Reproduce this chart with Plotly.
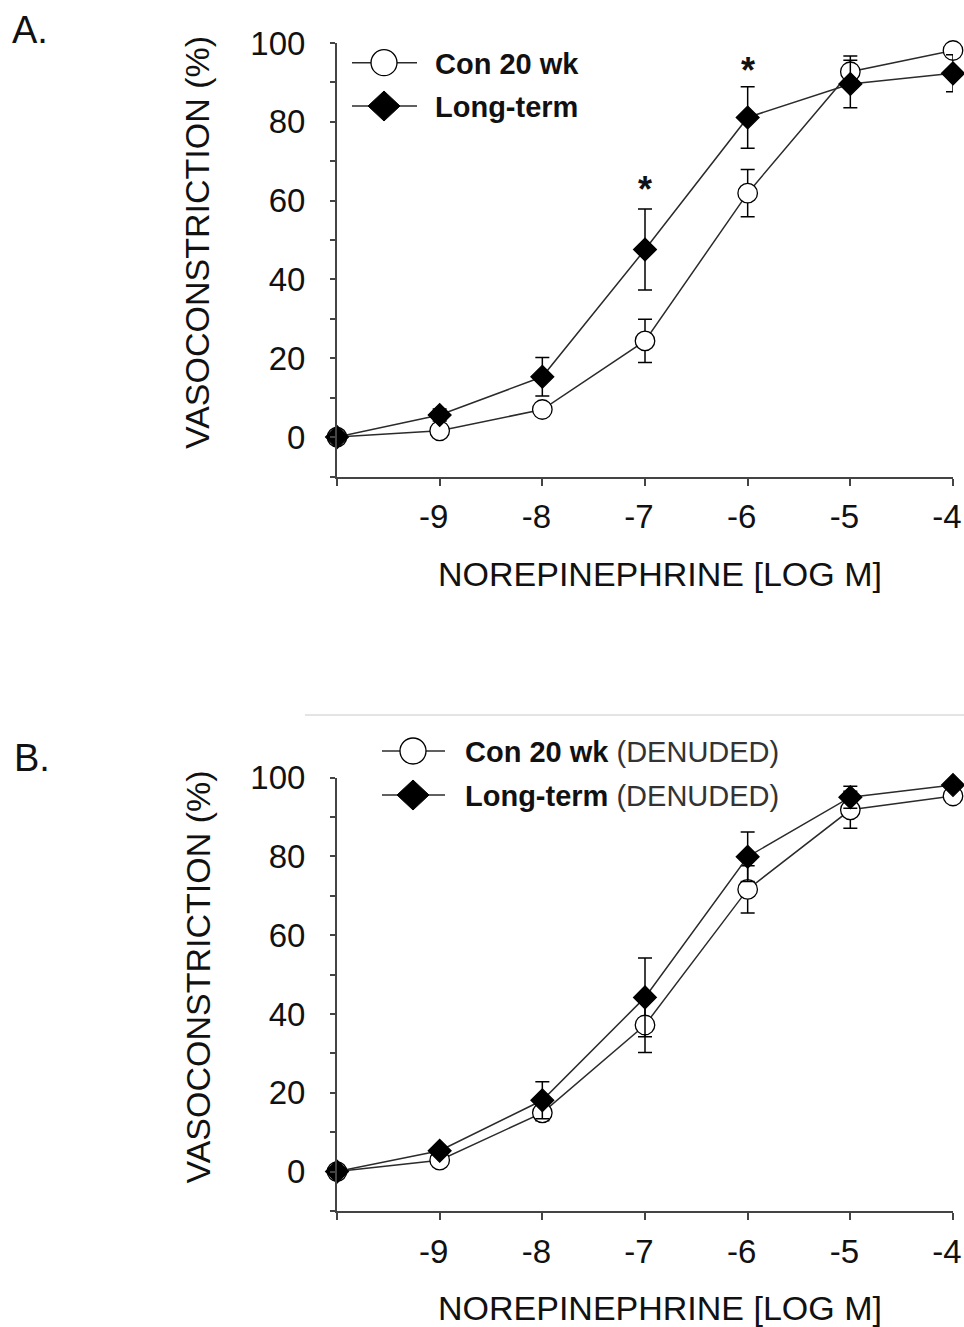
import plotly.graph_objects as go

# ---------------- data ----------------
x_log = [-10, -9, -8, -7, -6, -5, -4]
x_tick_vals = [-10, -9, -8, -7, -6, -5, -4]
x_tick_text = ["", "-9", "-8", "-7", "-6", "-5", "-4"]
y_tick_vals = [-10, 0, 10, 20, 30, 40, 50, 60, 70, 80, 90, 100]
y_tick_text = ["", "0", "", "20", "", "40", "", "60", "", "80", "", "100"]

a_con = [0, 1.6, 7.0, 24.4, 61.9, 92.7, 98.1]
a_con_err = [0, 1.0, 1.5, 5.5, 6.0, 4.0, 1.5]
a_lt = [0, 5.6, 15.3, 47.6, 81.1, 89.6, 92.3]
a_lt_err = [0, 1.5, 4.9, 10.3, 7.8, 6.0, 4.7]

b_con = [0, 2.9, 14.9, 37.2, 71.6, 91.8, 95.3]
b_con_err = [0, 1.0, 2.0, 7.0, 6.0, 4.7, 1.5]
b_lt = [0, 5.3, 18.1, 44.2, 79.9, 95.0, 98.1]
b_lt_err = [0, 1.0, 4.7, 10.0, 6.3, 2.8, 1.0]

sig_x = [-7, -6]
sig_y = [64.0, 94.4]

series_names = ["Con 20 wk", "Long-term"]
x_title = "NOREPINEPHRINE [LOG M]"
y_title = "VASOCONSTRICTION (%)"

# ---------------- layout helpers ----------------
W, H = 964, 1327
OFF = 0  # body margin removed by post_script
FONT = "Liberation Sans, Arial, Helvetica, sans-serif"


def px(x):
    return (x - OFF) / W


def py(y):
    return 1 - (y - OFF) / H


AX_L, AX_R = 337, 953
PANELS = [(43, 476.5), (777.5, 1211)]

fig = go.Figure()


def add_series(xa, ya, yvals, errs, symbol, name):
    filled = symbol == "diamond"
    fig.add_trace(go.Scatter(
        x=x_log, y=yvals, name=name, xaxis=xa, yaxis=ya,
        mode="lines+markers", cliponaxis=False, showlegend=False,
        line=dict(color="#2b2b2b", width=1.5),
        marker=dict(symbol=symbol, size=17.5 if filled else 19.5,
                    color="black" if filled else "white",
                    line=dict(color="black", width=1.3)),
        error_y=dict(type="data", array=errs, visible=True,
                     color="black", thickness=1.5, width=7),
    ))


add_series("x", "y", a_con, a_con_err, "circle", series_names[0])
add_series("x", "y", a_lt, a_lt_err, "diamond", series_names[1])
add_series("x2", "y2", b_con, b_con_err, "circle", series_names[0])
add_series("x2", "y2", b_lt, b_lt_err, "diamond", series_names[1])

axis_common = dict(showline=True, linecolor="#444", linewidth=2,
                   ticks="outside", tickcolor="#444", tickwidth=1.5,
                   showgrid=False, zeroline=False, automargin=False,
                   tickfont=dict(family=FONT, size=33, color="#111"))

lay = dict(
    width=W, height=H,
    margin=dict(l=0, r=0, t=0, b=0, pad=0, autoexpand=False),
    paper_bgcolor="white", plot_bgcolor="white", showlegend=False,
)
for i, (top, bot) in enumerate(PANELS):
    sfx = "" if i == 0 else str(i + 1)
    lay["xaxis" + sfx] = dict(
        domain=[px(AX_L), px(AX_R)], anchor="y" + sfx,
        range=[-10, -4], tickmode="array", tickvals=x_tick_vals,
        ticktext=x_tick_text, ticklen=7, ticklabelstandoff=3,
        ticklabelshift=-6, **axis_common)
    lay["yaxis" + sfx] = dict(
        domain=[py(bot), py(top)], anchor="x" + sfx,
        range=[-10, 100], tickmode="array", tickvals=y_tick_vals,
        ticktext=y_tick_text, ticklen=5, ticklabelstandoff=18, **axis_common)
fig.update_layout(**lay)

ann = []
shapes = []
for i, (top, bot) in enumerate(PANELS):
    # axis titles
    ann.append(dict(text=x_title, xref="paper", yref="paper",
                    x=px(660), y=py(bot + 97), showarrow=False,
                    xanchor="center", yanchor="middle",
                    font=dict(family=FONT, size=34, color="#111")))
    ann.append(dict(text=y_title, xref="paper", yref="paper",
                    x=px(197), y=py(top + 200), showarrow=False, textangle=-90,
                    xanchor="center", yanchor="middle",
                    font=dict(family=FONT, size=34, color="#111")))

# panel letters
ann.append(dict(text="A.", xref="paper", yref="paper", x=px(10), y=py(30),
                showarrow=False, xanchor="left", yanchor="middle",
                font=dict(family=FONT, size=38, color="#111")))
ann.append(dict(text="B.", xref="paper", yref="paper", x=px(12), y=py(758),
                showarrow=False, xanchor="left", yanchor="middle",
                font=dict(family=FONT, size=38, color="#111")))

# significance markers
for sx, sy in zip(sig_x, sig_y):
    ann.append(dict(text="<b>*</b>", xref="x", yref="y", x=sx, y=sy,
                    showarrow=False, xanchor="center", yanchor="middle",
                    yshift=-5, font=dict(family=FONT, size=36, color="#111")))

# legends (drawn manually)
legend_specs = [
    # (line x0, x1, symbol cx, row1 y, row2 y, text x, suffix)
    (352, 417, 384, 62.7, 106, 433, ""),
    (382, 445, 413, 751, 795, 463, " (DENUDED)"),
]
for (lx0, lx1, cx, r1, r2, tx, suffix) in legend_specs:
    for ry in (r1, r2):
        shapes.append(dict(type="line", xref="paper", yref="paper",
                           x0=px(lx0), x1=px(lx1), y0=py(ry), y1=py(ry),
                           line=dict(color="#2b2b2b", width=1.5)))
    shapes.append(dict(type="circle", xref="paper", yref="paper",
                       x0=px(cx - 13), x1=px(cx + 13),
                       y0=py(r1 + 13), y1=py(r1 - 13),
                       fillcolor="white", line=dict(color="black", width=1.3)))
    path = "M {},{} L {},{} L {},{} L {},{} Z".format(
        px(cx - 16), py(r2), px(cx), py(r2 - 15),
        px(cx + 16), py(r2), px(cx), py(r2 + 15))
    shapes.append(dict(type="path", xref="paper", yref="paper", path=path,
                       fillcolor="black", line=dict(color="black", width=1)))
    for name, ry in zip(series_names, (r1, r2)):
        txt = "<b>" + name + "</b>"
        if suffix:
            txt += "<span style='color:#333'>" + suffix + "</span>"
        ann.append(dict(text=txt, xref="paper", yref="paper",
                        x=px(tx), y=py(ry + 1), showarrow=False,
                        xanchor="left", yanchor="middle",
                        font=dict(family=FONT, size=29, color="#111")))

# faint separator between panels
shapes.append(dict(type="line", xref="paper", yref="paper",
                   x0=px(305), x1=px(964), y0=py(715), y1=py(715),
                   line=dict(color="#e4e4e4", width=2)))

fig.update_layout(annotations=ann, shapes=shapes)
fig.write_html(
    "out.html",
    config={"displayModeBar": False},
    post_script=("document.body.style.margin='0';"
                 "document.documentElement.style.overflow='hidden';"),
)
